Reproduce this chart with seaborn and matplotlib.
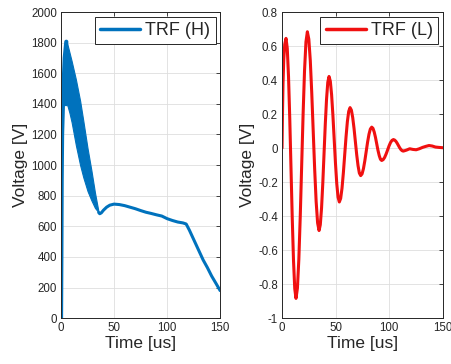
import numpy as np
import pandas as pd
import matplotlib
matplotlib.use("Agg")
import matplotlib.pyplot as plt
import seaborn as sns

# ---------------- data: TRF (H) ----------------
rise_t = [0.0, 0.3, 0.6, 1.0, 2.0, 3.5, 5.0]
rise_v = [0, 400, 900, 1200, 1450, 1700, 1806]

band_t = [1.0, 2.5, 4.0, 5.0, 6.0, 8, 10, 14, 18, 21, 25, 28.6, 32, 35.5]
band_upper = [1400, 1637, 1770, 1806, 1790, 1735, 1680, 1560, 1420, 1290, 1110, 967, 820, 690]
band_lower = [1395, 1393, 1392, 1392, 1390, 1340, 1280, 1130, 1000, 920, 830, 770, 720, 690]

tail_t = [35.5, 36.5, 38, 40, 43, 46, 50, 55, 60, 65, 70, 75, 80, 85, 90, 95,
          100, 105, 110, 115, 118, 121, 125, 130, 134, 138, 142, 146, 150]
tail_v = [690, 682, 688, 705, 725, 738, 745, 742, 735, 725, 715, 703, 692, 684,
          675, 667, 650, 638, 628, 622, 615, 575, 515, 440, 380, 330, 275, 228, 180]

# ---------------- data: TRF (L) ----------------
low_t = [0.0, 0.4, 0.9, 1.6, 2.5, 3.7,
         4.86, 6.03, 7.19, 8.35, 9.51, 10.68, 11.84, 13.0,
         14.33, 15.65, 16.98, 18.3, 19.63, 20.95, 22.28, 23.6,
         24.96, 26.33, 27.69, 29.05, 30.41, 31.78, 33.14, 34.5,
         35.66, 36.83, 37.99, 39.15, 40.31, 41.48, 42.64, 43.8,
         45.0, 46.2, 47.4, 48.6, 49.8, 51.0, 52.2, 53.4,
         54.65, 55.9, 57.15, 58.4, 59.65, 60.9, 62.15, 63.4,
         64.64, 65.88, 67.11, 68.35, 69.59, 70.83, 72.06, 73.3,
         74.59, 75.88, 77.16, 78.45, 79.74, 81.03, 82.31, 83.6,
         84.76, 85.93, 87.09, 88.25, 89.41, 90.58, 91.74, 92.9,
         94.26, 95.63, 96.99, 98.35, 99.71, 101.08, 102.44, 103.8,
         104.95, 106.1, 107.25, 108.4, 109.55, 110.7, 111.85, 113.0,
         116, 119, 122, 125, 128, 131, 134, 137, 140, 143, 146, 150]
low_v = [0.0, 0.20, 0.38, 0.52, 0.61, 0.645,
         0.587, 0.421, 0.173, -0.12, -0.413, -0.661, -0.827, -0.884,
         -0.824, -0.654, -0.400, -0.10, 0.200, 0.454, 0.624, 0.684,
         0.640, 0.514, 0.324, 0.10, -0.124, -0.314, -0.440, -0.485,
         -0.451, -0.352, -0.205, -0.032, 0.141, 0.288, 0.387, 0.421,
         0.393, 0.313, 0.193, 0.052, -0.089, -0.209, -0.289, -0.317,
         -0.296, -0.236, -0.146, -0.04, 0.066, 0.156, 0.216, 0.238,
         0.223, 0.179, 0.115, 0.038, -0.039, -0.103, -0.147, -0.162,
         -0.152, -0.121, -0.075, -0.02, 0.035, 0.081, 0.112, 0.123,
         0.116, 0.094, 0.063, 0.025, -0.013, -0.044, -0.066, -0.073,
         -0.068, -0.055, -0.035, -0.012, 0.012, 0.032, 0.045, 0.05,
         0.047, 0.040, 0.029, 0.016, 0.003, -0.008, -0.015, -0.018,
         -0.012, -0.004, -0.008, -0.010, -0.004, 0.004, 0.010, 0.015,
         0.012, 0.006, 0.004, 0.002]

x_ticks = [0, 50, 100, 150]
h_yticks = list(range(0, 2001, 200))
l_yticks = [-1, -0.8, -0.6, -0.4, -0.2, 0, 0.2, 0.4, 0.6, 0.8]
l_yticklabels = ["-1", "-0.8", "-0.6", "-0.4", "-0.2", "0", "0.2", "0.4", "0.6", "0.8"]

BLUE = "#0072BD"
RED = "#F01010"
DARK = "#262626"

sns.set_theme(style="white")
plt.rcParams["font.family"] = ["Liberation Sans", "DejaVu Sans"]

fig = plt.figure(figsize=(4.52, 3.64), dpi=100)
ax1 = fig.add_axes([0.135, 0.126, 0.352, 0.841])
ax2 = fig.add_axes([0.624, 0.126, 0.356, 0.841])

# left panel
ax1.fill_between(band_t, band_lower, band_upper, color=BLUE, lw=0.8, edgecolor=BLUE)
sns.lineplot(x=rise_t, y=rise_v, ax=ax1, color=BLUE, lw=3, label="TRF (H)", sort=False)
sns.lineplot(x=tail_t, y=tail_v, ax=ax1, color=BLUE, lw=2.2, sort=False)
ax1.set_xlim(0, 150)
ax1.set_ylim(0, 2000)
ax1.set_yticks(h_yticks)
ax1.set_yticklabels([str(v) for v in h_yticks])

# right panel
sns.lineplot(x=low_t, y=low_v, ax=ax2, color=RED, lw=2.2, label="TRF (L)", sort=False)
ax2.set_xlim(0, 150)
ax2.set_ylim(-1, 0.8)
ax2.set_yticks(l_yticks)
ax2.set_yticklabels(l_yticklabels)

for ax in (ax1, ax2):
    ax.set_xticks(x_ticks)
    ax.set_xticklabels([str(v) for v in x_ticks])
    ax.grid(True, color="#dedede", lw=0.6)
    ax.set_axisbelow(True)
    for s in ax.spines.values():
        s.set_color(DARK)
        s.set_linewidth(0.7)
        s.set_visible(True)
    ax.tick_params(direction="in", length=3, width=0.6, colors=DARK,
                   labelsize=8.3, top=True, right=True, pad=3)
    ax.set_xlabel("Time [us]", fontsize=12.5, color=DARK, labelpad=1)
    ax.set_ylabel("Voltage [V]", fontsize=12.5, color=DARK, labelpad=2)
    leg = ax.legend(loc="upper right", fontsize=13, frameon=True, fancybox=False,
                    borderaxespad=0.25, handlelength=2.2, handletextpad=0.3,
                    borderpad=0.3, edgecolor=DARK, framealpha=1)
    leg.get_frame().set_linewidth(0.7)
    for line in leg.get_lines():
        line.set_linewidth(2.5)

fig.savefig("out.png", dpi=100)
